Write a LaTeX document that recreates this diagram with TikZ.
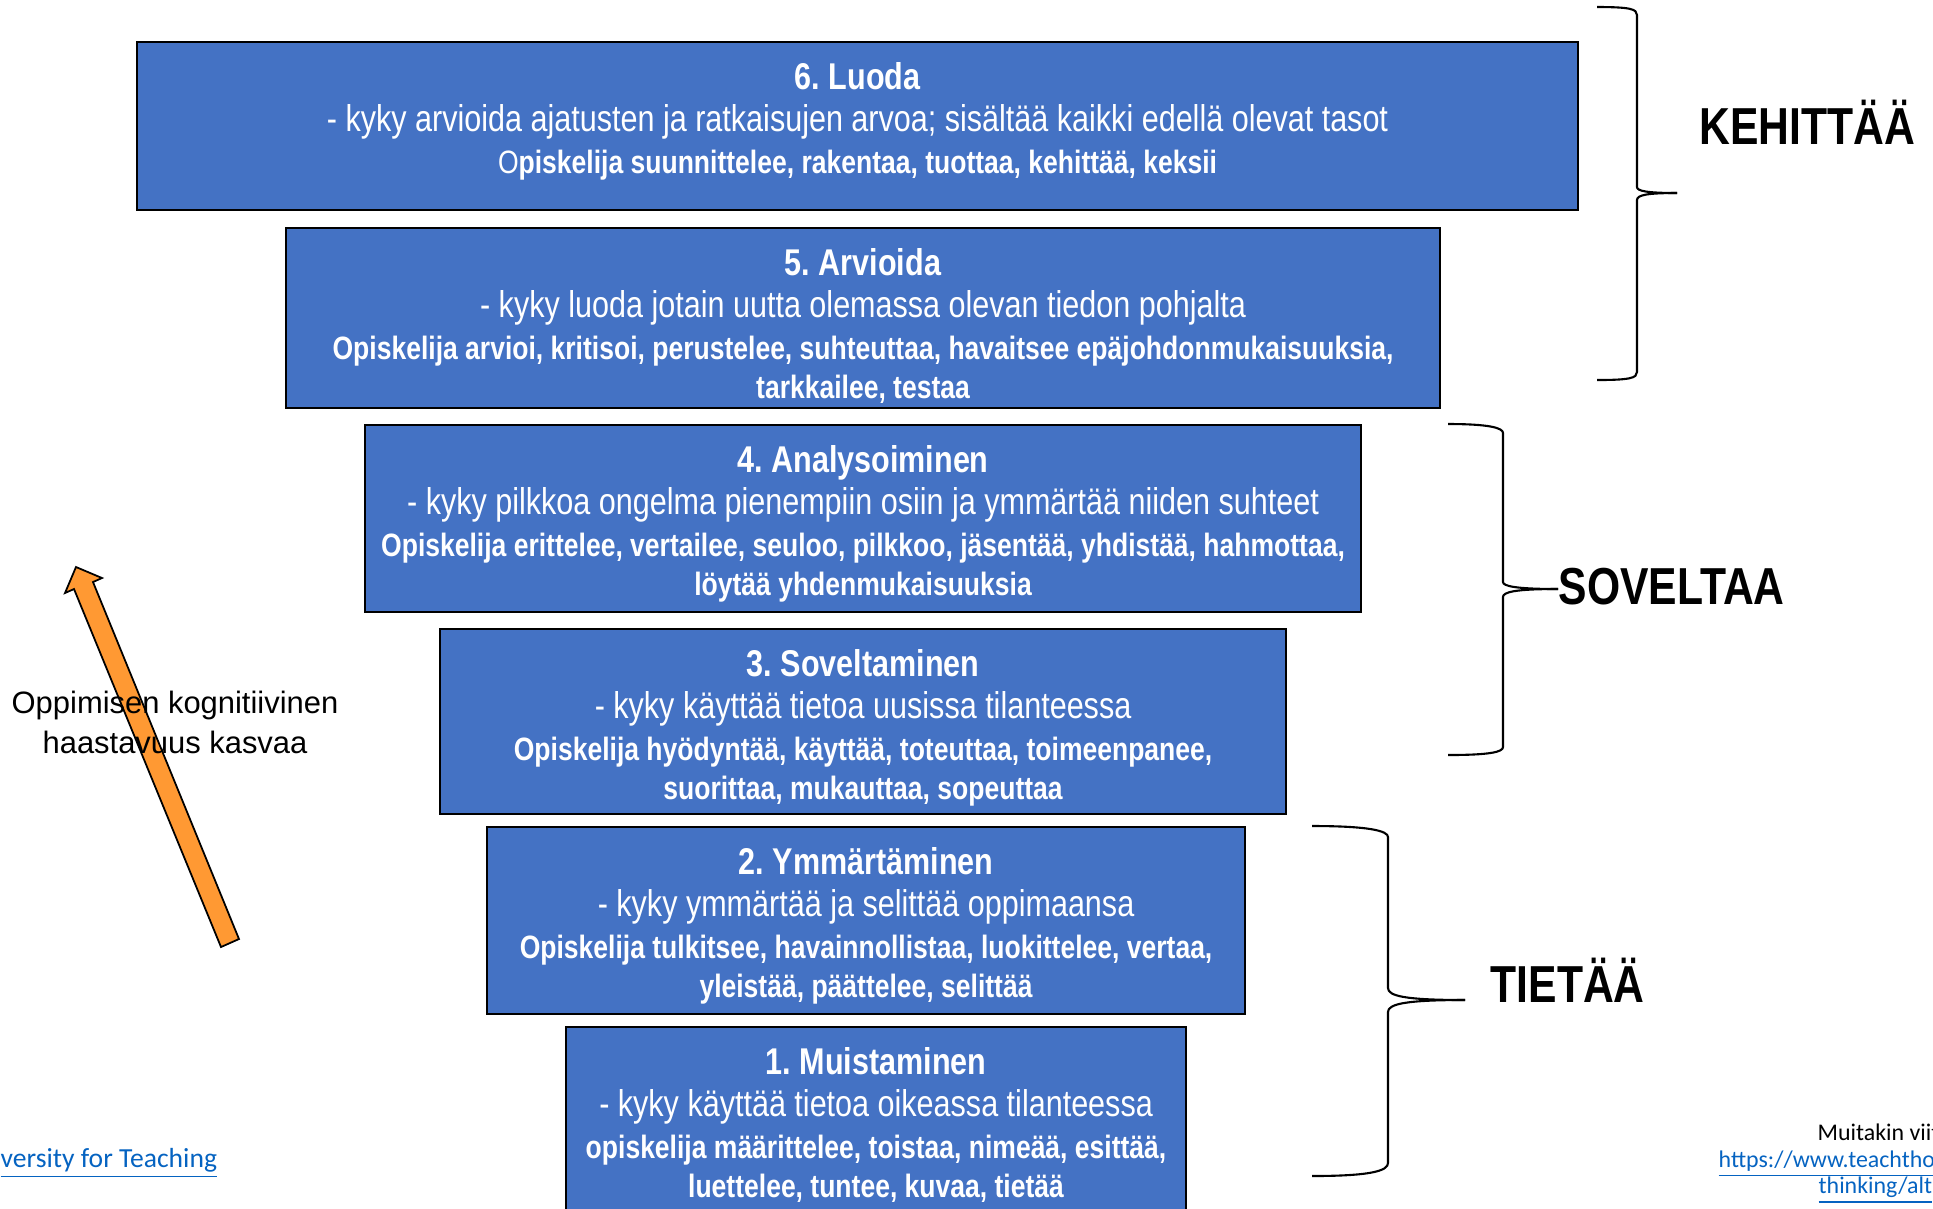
\documentclass[tikz,border=0pt]{standalone}
\usepackage{fontspec}
\setmainfont{Liberation Sans}
\newfontfamily\kapea[FakeStretch=0.82]{Liberation Sans}
\newfontfamily\linkkifontti{Carlito}
\usetikzlibrary{positioning}
\frenchspacing
\definecolor{tasonsininen}{RGB}{68,114,196}
\definecolor{nuolenoranssi}{RGB}{255,153,51}
\definecolor{linkinsininen}{RGB}{5,99,193}
\tikzstyle{taso} = [rectangle, draw=black, line width=0.6pt, fill=tasonsininen, anchor=north west, inner sep=0pt]
\tikzstyle{tasoteksti} = [text=white, align=center, inner sep=0pt, font=\kapea\fontsize{10.6}{11.9}\selectfont]
\tikzstyle{ryhma} = [anchor=base west, inner sep=0pt, font=\kapea\bfseries\fontsize{14.8}{16}\selectfont]
\tikzstyle{sulje} = [line width=0.6pt, black]
\tikzstyle{linkki} = [anchor=base west, inner sep=0pt, text=linkinsininen]
\newcommand{\verbit}{\fontsize{9.2}{11.9}\selectfont\bfseries}

\begin{document}
\begin{tikzpicture}

        \useasboundingbox (0,0) rectangle (19.33,-12.08);
        \clip (0,0) rectangle (19.33,-12.08);

        \draw[line width=0.5pt, fill=nuolenoranssi] (2.21,-9.47) -- (0.74,-5.89) -- (0.65,-5.93) -- (0.76,-5.67) -- (1.02,-5.78) -- (0.93,-5.82) -- (2.39,-9.39) -- cycle;
        \node (haaste) [align=center, inner sep=0pt, font=\fontsize{8.8}{11.4}\selectfont] at (1.75,-7.22) {Oppimisen kognitiivinen\\haastavuus kasvaa};

        \node (L6) [taso, minimum width=14.41cm, minimum height=1.68cm] at (1.36,-0.41) {};
        \node (T6) [tasoteksti, below=0.21cm of L6.north] {{\bfseries 6. Luoda}\\
            - kyky arvioida ajatusten ja ratkaisujen arvoa; sisältää kaikki edellä olevat tasot\\
            {\fontsize{9.2}{11.9}\selectfont O{\bfseries piskelija suunnittelee, rakentaa, tuottaa, kehittää, keksii}}};

        \node (L5) [taso, minimum width=11.54cm, minimum height=1.80cm] at (2.85,-2.27) {};
        \node (T5) [tasoteksti, below=0.21cm of L5.north] {{\bfseries 5. Arvioida}\\
            - kyky luoda jotain uutta olemassa olevan tiedon pohjalta\\
            {\verbit Opiskelija arvioi, kritisoi, perustelee, suhteuttaa, havaitsee epäjohdonmukaisuuksia,}\\[-0.8pt]
            {\verbit tarkkailee, testaa}};

        \node (L4) [taso, minimum width=9.96cm, minimum height=1.87cm] at (3.64,-4.24) {};
        \node (T4) [tasoteksti, below=0.21cm of L4.north] {{\bfseries 4. Analysoiminen}\\
            - kyky pilkkoa ongelma pienempiin osiin ja ymmärtää niiden suhteet\\
            {\verbit Opiskelija erittelee, vertailee, seuloo, pilkkoo, jäsentää, yhdistää, hahmottaa,}\\[-0.8pt]
            {\verbit löytää yhdenmukaisuuksia}};

        \node (L3) [taso, minimum width=8.46cm, minimum height=1.85cm] at (4.39,-6.28) {};
        \node (T3) [tasoteksti, below=0.21cm of L3.north] {{\bfseries 3. Soveltaminen}\\
            - kyky käyttää tietoa uusissa tilanteessa\\
            {\verbit Opiskelija hyödyntää, käyttää, toteuttaa, toimeenpanee,}\\[-0.8pt]
            {\verbit suorittaa, mukauttaa, sopeuttaa}};

        \node (L2) [taso, minimum width=7.58cm, minimum height=1.87cm] at (4.86,-8.26) {};
        \node (T2) [tasoteksti, below=0.21cm of L2.north] {{\bfseries 2. Ymmärtäminen}\\
            - kyky ymmärtää ja selittää oppimaansa\\
            {\verbit Opiskelija tulkitsee, havainnollistaa, luokittelee, vertaa,}\\[-0.8pt]
            {\verbit yleistää, päättelee, selittää}};

        \node (L1) [taso, minimum width=6.20cm, minimum height=2.30cm] at (5.65,-10.26) {};
        \node (T1) [tasoteksti, below=0.21cm of L1.north] {{\bfseries 1. Muistaminen}\\
            - kyky käyttää tietoa oikeassa tilanteessa\\
            {\verbit opiskelija määrittelee, toistaa, nimeää, esittää,}\\[-0.8pt]
            {\verbit luettelee, tuntee, kuvaa, tietää}};

        \draw[sulje] (15.97,-0.07) .. controls (16.30,-0.07) and (16.37,-0.09) .. (16.37,-0.15) -- (16.37,-1.87) .. controls (16.37,-1.91) and (16.47,-1.93) .. (16.77,-1.93);
        \draw[sulje] (16.77,-1.93) .. controls (16.47,-1.93) and (16.37,-1.95) .. (16.37,-2.00) -- (16.37,-3.72) .. controls (16.37,-3.78) and (16.30,-3.80) .. (15.97,-3.80);
        \node (kehittaa) [ryhma] at (16.99,-1.44) {KEHITTÄÄ};

        \draw[sulje] (14.48,-4.24) .. controls (14.90,-4.24) and (15.03,-4.28) .. (15.03,-4.33) -- (15.03,-5.82) .. controls (15.03,-5.86) and (15.15,-5.89) .. (15.58,-5.89);
        \draw[sulje] (15.58,-5.89) .. controls (15.15,-5.89) and (15.03,-5.92) .. (15.03,-5.97) -- (15.03,-7.47) .. controls (15.03,-7.52) and (14.90,-7.55) .. (14.48,-7.55);
        \node (soveltaa) [ryhma] at (15.58,-6.04) {SOVELTAA};

        \draw[sulje] (13.12,-8.26) .. controls (13.70,-8.26) and (13.88,-8.31) .. (13.88,-8.37) -- (13.88,-9.88) .. controls (13.88,-9.96) and (14.05,-10.00) .. (14.65,-10.00);
        \draw[sulje] (14.65,-10.00) .. controls (14.05,-10.00) and (13.88,-10.04) .. (13.88,-10.12) -- (13.88,-11.63) .. controls (13.88,-11.71) and (13.70,-11.76) .. (13.12,-11.76);
        \node (tietaa) [ryhma] at (14.90,-10.02) {TIETÄÄ};

        \node (yliopisto) [linkki, font=\linkkifontti\fontsize{7.85}{9}\selectfont] at (0,-11.67) {\underline{versity for Teaching}};
        \node (muita) [anchor=base west, inner sep=0pt, font=\linkkifontti\fontsize{6.8}{8}\selectfont] at (18.17,-11.40) {Muitakin viit};
        \node (osoite) [linkki, font=\linkkifontti\fontsize{6.8}{8}\selectfont] at (17.18,-11.67) {\underline{https://www.teachtho}};
        \node (osoite2) [linkki, font=\linkkifontti\fontsize{6.8}{8}\selectfont] at (18.18,-11.93) {\underline{thinking/alt}};

    \end{tikzpicture}
\end{document}
